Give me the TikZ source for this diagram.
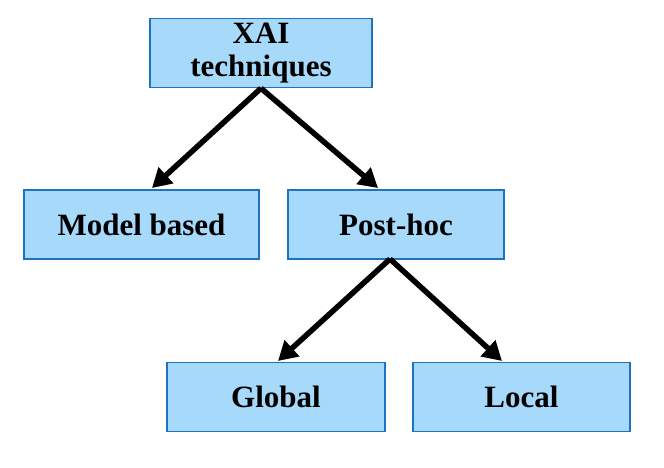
\documentclass[tikz,border=0pt]{standalone}
\usepackage{fontspec}
\setmainfont{Liberation Serif}
\usetikzlibrary{arrows.meta}
\definecolor{boxfill}{RGB}{167,217,251}
\definecolor{boxline}{RGB}{30,115,190}
\begin{document}
\begin{tikzpicture}[x=1pt, y=-1pt]
		\tikzstyle{block} = [rectangle,draw=boxline,line width=1.5pt,fill=boxfill,minimum height=69pt,align=center,font=\fontsize{31}{33}\selectfont\bfseries,inner sep=0pt]
		\useasboundingbox (0,0) rectangle (664,468);
		\node[block,minimum width=222pt](xai)at (261,53){XAI\\techniques};
		\node[block,minimum width=235pt](model)at (141.5,224.5){Model based};
		\node[block,minimum width=216pt](posthoc)at (396,224.5){Post-hoc};
		\node[block,minimum width=218pt](global)at (276,397){Global};
		\node[block,minimum width=217pt](local)at (521.5,397){Local};
		\path[-{Triangle[length=19pt,width=21pt]},line width=5.5pt] (xai.south) edge (152,188)
		(xai.south) edge (378,188)
		(390,259) edge (278,361)
		(390,259) edge (502,361);
		\end{tikzpicture}
\end{document}
